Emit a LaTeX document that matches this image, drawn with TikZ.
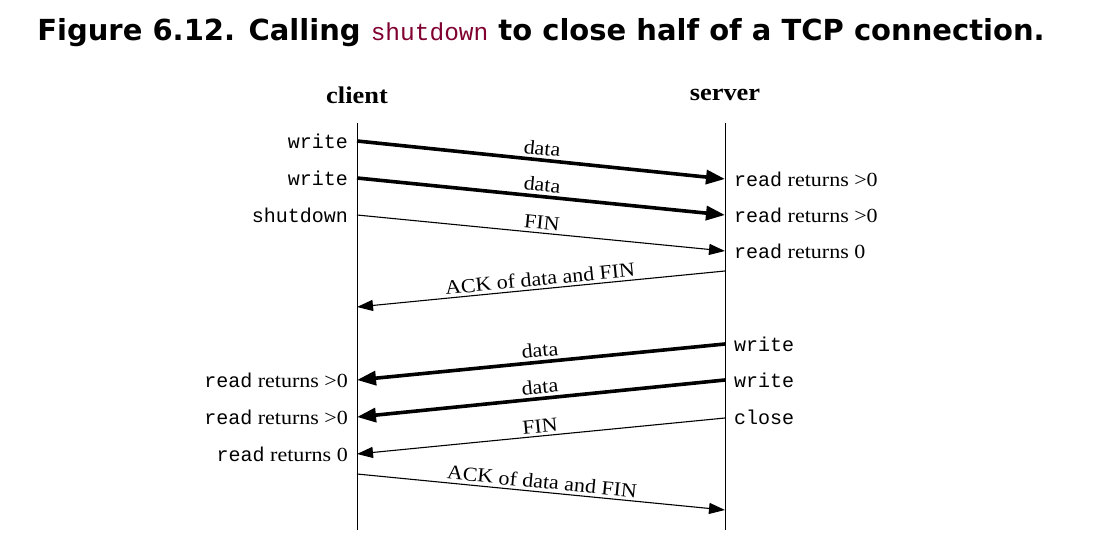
\documentclass[tikz,border=0pt]{standalone}
\usepackage{fontspec}
\setmainfont[FakeStretch=1.1]{Liberation Serif}
\setmonofont{Liberation Mono}
\newfontfamily\titlefont{DejaVu Sans}
\usetikzlibrary{arrows.meta}
\definecolor{shutred}{RGB}{128,0,48}

\begin{document}
\begin{tikzpicture}[x=1pt,y=-1pt,
		lbl/.style={font=\fontsize{20}{24}\selectfont, inner sep=1pt},
		host/.style={font=\fontsize{24}{28}\selectfont\bfseries, inner sep=1pt},
		msg/.style={line width=1.1pt, -{Triangle[length=16pt,width=11pt]}},
		bulk/.style={line width=3.6pt, -{Triangle[length=19pt,width=14pt]}},
		tag/.style={lbl, sloped, above, inner sep=3pt}]

	\useasboundingbox (0,0) rectangle (1106,540);

	% title
	\node (title) at (541,33) {\titlefont\fontsize{29}{34}\selectfont\bfseries Figure 6.12. Calling
		{\ttfamily\mdseries\fontsize{24.5}{28}\selectfont\color{shutred}shutdown} to close half of a TCP connection.};

	% hosts and lifelines
	\node[host] (client) at (357,95) {client};
	\node[host] (server) at (725,95) {server};
	\coordinate (ctop) at (357,123);
	\coordinate (cbot) at (357,530);
	\coordinate (stop) at (725,123);
	\coordinate (sbot) at (725,530);
	\draw[line width=0.9pt] (ctop) -- (cbot);
	\draw[line width=0.9pt] (stop) -- (sbot);

	% points on the client line
	\coordinate (c1) at (357,141);
	\coordinate (c2) at (357,178);
	\coordinate (c3) at (357,215);
	\coordinate (c4) at (357,307);
	\coordinate (c5) at (357,380);
	\coordinate (c6) at (357,417);
	\coordinate (c7) at (357,454);
	\coordinate (c8) at (357,474);

	% points on the server line
	\coordinate (s1) at (725,179);
	\coordinate (s2) at (725,215);
	\coordinate (s3) at (725,251);
	\coordinate (s4) at (725,271);
	\coordinate (s5) at (725,344);
	\coordinate (s6) at (725,380);
	\coordinate (s7) at (725,418);
	\coordinate (s8) at (725,510);

	% client side calls
	\node[lbl, anchor=east] (cw1) at (349,141) {\texttt{write}};
	\node[lbl, anchor=east] (cw2) at (349,178) {\texttt{write}};
	\node[lbl, anchor=east] (csd) at (349,215) {\texttt{shutdown}};
	\node[lbl, anchor=east] (cr1) at (349,380) {\texttt{read} returns >0};
	\node[lbl, anchor=east] (cr2) at (349,417) {\texttt{read} returns >0};
	\node[lbl, anchor=east] (cr3) at (349,454) {\texttt{read} returns 0};

	% server side calls
	\node[lbl, anchor=west] (sr1) at (733,179) {\texttt{read} returns >0};
	\node[lbl, anchor=west] (sr2) at (733,215) {\texttt{read} returns >0};
	\node[lbl, anchor=west] (sr3) at (733,251) {\texttt{read} returns 0};
	\node[lbl, anchor=west] (sw1) at (733,344) {\texttt{write}};
	\node[lbl, anchor=west] (sw2) at (733,380) {\texttt{write}};
	\node[lbl, anchor=west] (scl) at (733,417) {\texttt{close}};

	% segments
	\draw[bulk] (c1) -- (s1) node[tag, midway] {data};
	\draw[bulk] (c2) -- (s2) node[tag, midway] {data};
	\draw[msg] (c3) -- (s3) node[tag, midway] {FIN};
	\draw[msg] (s4) -- (c4) node[tag, midway] {ACK of data and FIN};

	\draw[bulk] (s5) -- (c5) node[tag, midway] {data};
	\draw[bulk] (s6) -- (c6) node[tag, midway] {data};
	\draw[msg] (s7) -- (c7) node[tag, midway] {FIN};
	\draw[msg] (c8) -- (s8) node[tag, midway] {ACK of data and FIN};
\end{tikzpicture}
\end{document}
